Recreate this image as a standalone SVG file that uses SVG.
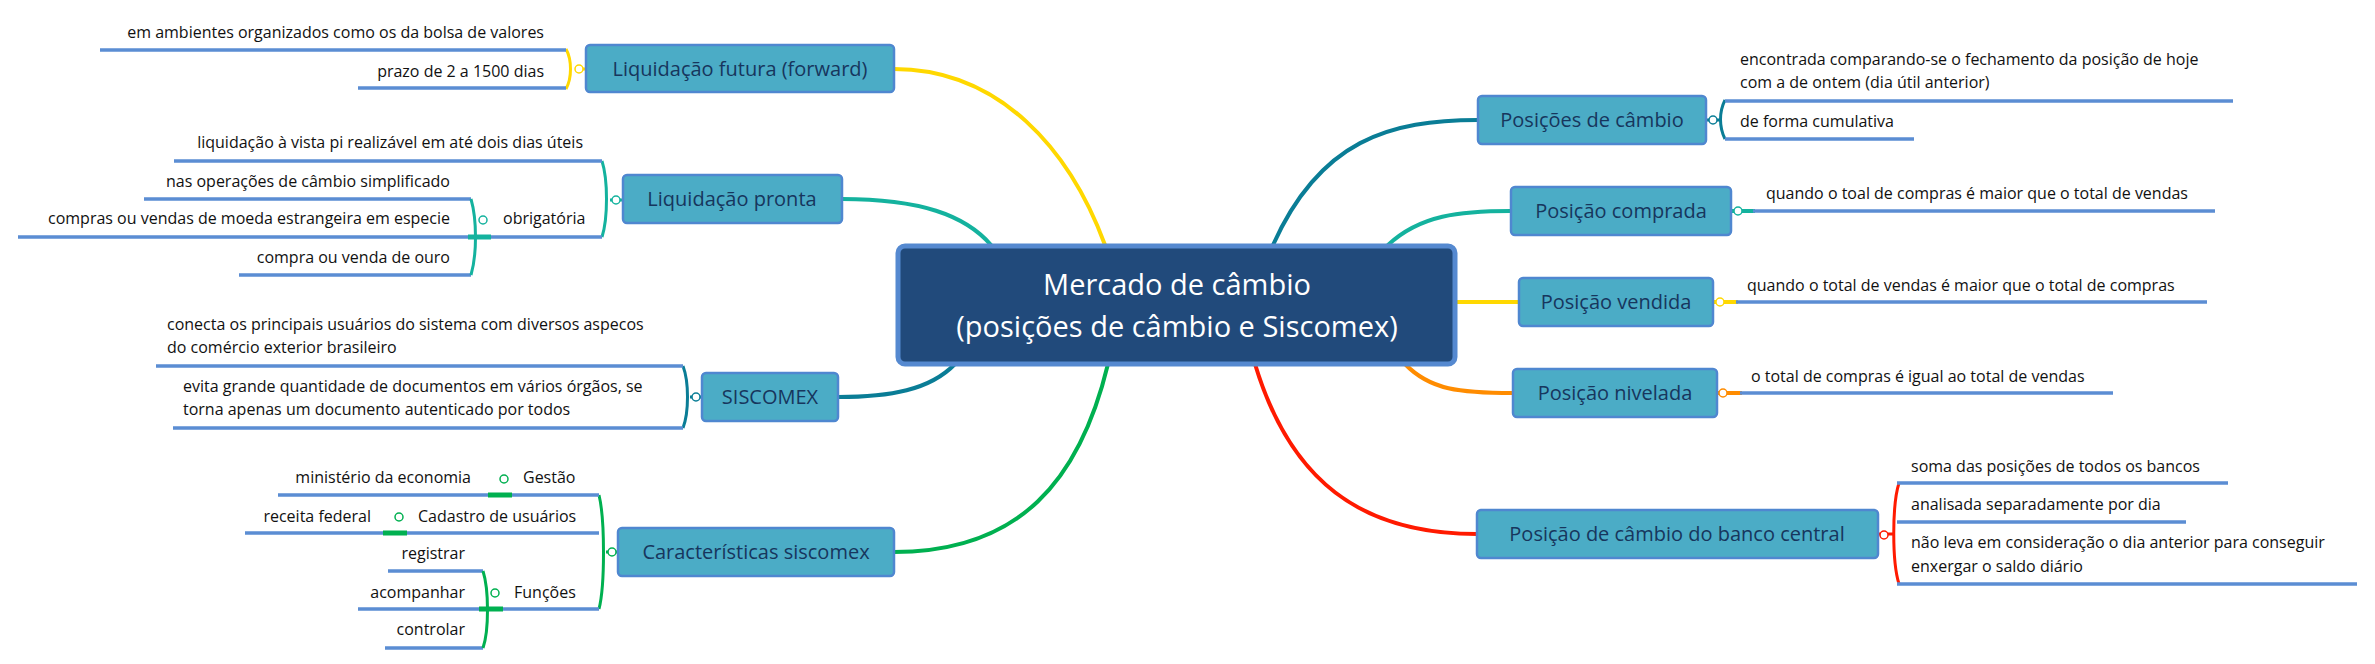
<svg xmlns="http://www.w3.org/2000/svg" width="2375" height="664" viewBox="0 0 2375 664">
<style>
.topic rect{fill:#4BACC6;stroke:#4F87D0;stroke-width:2.5}
.topic text{font-family:"Open Sans","DejaVu Sans",sans-serif;font-size:20px;fill:#17365D;text-anchor:middle}
.leaf{font-family:"Open Sans","DejaVu Sans",sans-serif;font-size:16px;fill:#111}
.end{text-anchor:end}
.ul{stroke:#5B8DD3;stroke-width:3.5;fill:none}
.c{fill:none;stroke-width:4;stroke-linecap:round}
.b{fill:none;stroke-width:3}
.dot{fill:#fff;stroke-width:1.5}
</style>
<rect width="2375" height="664" fill="#fff"/>
<g id="connectors">
<path class="c" stroke="#FFD800" d="M894,69 C1000,69 1070,150 1105,245"/>
<path class="c" stroke="#14B29E" d="M842,199 C920,199 965,215 991,245"/>
<path class="c" stroke="#0A7D96" d="M955,364 C930,390 890,397 838,397"/>
<path class="c" stroke="#00B050" d="M1108,364 C1080,480 1020,552 894,552"/>
<path class="c" stroke="#0A7D96" d="M1273,245 C1320,140 1390,120 1478,120"/>
<path class="c" stroke="#14B29E" d="M1388,245 C1420,215 1460,211 1511,211"/>
<path class="c" stroke="#FFD800" d="M1456,302 L1519,302"/>
<path class="c" stroke="#FF8C00" d="M1405,364 C1430,390 1460,393 1513,393"/>
<path class="c" stroke="#FF1A00" d="M1255,364 C1290,480 1360,534 1477,534"/>
</g>
<g id="central">
<rect x="898" y="246" width="557" height="118" rx="7" fill="#214A7B" stroke="#5589D0" stroke-width="5"/>
<text x="1177" y="295" font-family="'Open Sans','DejaVu Sans',sans-serif" font-size="29" fill="#fff" text-anchor="middle">Mercado de câmbio</text>
<text x="1177" y="337" font-family="'Open Sans','DejaVu Sans',sans-serif" font-size="29" fill="#fff" text-anchor="middle">(posições de câmbio e Siscomex)</text>
</g>
<g id="liquidacao-futura">
<path class="b" stroke="#FFD800" d="M566,49 C572,60 572,78 566,89 M575,69 L586,69"/>
<path class="ul" d="M100,50 H566 M358,88 H566"/>
<text class="leaf end" x="544" y="38">em ambientes organizados como os da bolsa de valores</text>
<text class="leaf end" x="544" y="77">prazo de 2  a 1500 dias</text>
<circle class="dot" stroke="#FFD800" cx="579" cy="69" r="4"/>
<g class="topic"><rect x="586" y="45" width="308" height="47" rx="4"/><text x="740" y="76">Liquidação futura (forward)</text></g>
</g>
<g id="liquidacao-pronta">
<path class="b" stroke="#14B29E" d="M602,161 C608,180 608,218 602,237 M610,200 L623,200"/>
<path class="ul" d="M174,161 H602 M491,237 H602 M144,199 H471 M18,237 H471 M239,275 H471"/>
<path class="b" stroke="#14B29E" d="M471,199 C477,220 477,254 471,275"/>
<path stroke="#14B29E" stroke-width="5" d="M468,237 H491"/>
<text class="leaf end" x="583" y="148">liquidação à vista pi realizável em até dois dias úteis</text>
<text class="leaf" x="503" y="224">obrigatória</text>
<text class="leaf end" x="450" y="187">nas operações de câmbio simplificado</text>
<text class="leaf end" x="450" y="224">compras ou vendas de moeda estrangeira em especie</text>
<text class="leaf end" x="450" y="263">compra ou venda de ouro</text>
<circle class="dot" stroke="#14B29E" cx="483" cy="220" r="4"/>
<circle class="dot" stroke="#14B29E" cx="616" cy="200" r="4"/>
<g class="topic"><rect x="623" y="175" width="219" height="48" rx="4"/><text x="732" y="206">Liquidação pronta</text></g>
</g>
<g id="siscomex">
<path class="b" stroke="#0A7D96" d="M683,366 C689,382 689,412 683,428 M690,397 L702,397"/>
<path class="ul" d="M156,366 H683 M173,428 H683"/>
<text class="leaf" x="167" y="330">conecta os principais usuários do sistema com diversos aspecos</text>
<text class="leaf" x="167" y="353">do comércio exterior brasileiro</text>
<text class="leaf" x="183" y="392">evita grande quantidade de documentos em vários órgãos, se</text>
<text class="leaf" x="183" y="415">torna apenas um documento autenticado por todos</text>
<circle class="dot" stroke="#0A7D96" cx="696" cy="397" r="4"/>
<g class="topic"><rect x="702" y="373" width="136" height="48" rx="4"/><text x="770" y="404">SISCOMEX</text></g>
</g>
<g id="caracteristicas">
<path class="b" stroke="#00B050" d="M599,495 C605,520 605,585 599,609 M606,552 L618,552"/>
<path class="ul" d="M278,495 H599 M245,533 H599 M503,609 H599 M388,571 H483 M358,609 H483 M385,648 H483"/>
<path class="b" stroke="#00B050" d="M483,571 C489,590 489,630 483,648"/>
<path stroke="#00B050" stroke-width="5" d="M488,495 H512 M383,533 H407 M479,609 H503"/>
<text class="leaf" x="523" y="483">Gestão</text>
<text class="leaf end" x="471" y="483">ministério da economia</text>
<text class="leaf" x="418" y="522">Cadastro de usuários</text>
<text class="leaf end" x="371" y="522">receita federal</text>
<text class="leaf" x="514" y="598">Funções</text>
<text class="leaf end" x="465" y="559">registrar</text>
<text class="leaf end" x="465" y="598">acompanhar</text>
<text class="leaf end" x="465" y="635">controlar</text>
<circle class="dot" stroke="#00B050" cx="504" cy="479" r="4"/>
<circle class="dot" stroke="#00B050" cx="399" cy="517" r="4"/>
<circle class="dot" stroke="#00B050" cx="495" cy="593" r="4"/>
<circle class="dot" stroke="#00B050" cx="612" cy="552" r="4"/>
<g class="topic"><rect x="618" y="528" width="276" height="48" rx="4"/><text x="756" y="559">Características siscomex</text></g>
</g>
<g id="posicoes-cambio">
<path class="b" stroke="#0A7D96" d="M1725,100 C1719,112 1719,127 1725,139 M1706,120 L1721,120"/>
<path class="ul" d="M1725,101 H2233 M1725,139 H1914"/>
<text class="leaf" x="1740" y="65">encontrada comparando-se o fechamento da posição de hoje</text>
<text class="leaf" x="1740" y="88">com a de ontem (dia útil anterior)</text>
<text class="leaf" x="1740" y="127">de forma cumulativa</text>
<circle class="dot" stroke="#0A7D96" cx="1713" cy="120" r="4"/>
<g class="topic"><rect x="1478" y="96" width="228" height="48" rx="4"/><text x="1592" y="127">Posições de câmbio</text></g>
</g>
<g id="posicao-comprada">
<path stroke="#14B29E" stroke-width="4" d="M1731,211 H1755"/>
<path class="ul" d="M1753,211 H2215"/>
<text class="leaf" x="1766" y="199">quando o toal de compras é maior que o total de vendas</text>
<circle class="dot" stroke="#14B29E" cx="1738" cy="211" r="4"/>
<g class="topic"><rect x="1511" y="187" width="220" height="48" rx="4"/><text x="1621" y="218">Posição comprada</text></g>
</g>
<g id="posicao-vendida">
<path stroke="#FFD800" stroke-width="4" d="M1713,302 H1738"/>
<path class="ul" d="M1736,302 H2207"/>
<text class="leaf" x="1747" y="291">quando o total de vendas é maior que o total de compras</text>
<circle class="dot" stroke="#FFD800" cx="1720" cy="302" r="4"/>
<g class="topic"><rect x="1519" y="278" width="194" height="48" rx="4"/><text x="1616" y="309">Posição vendida</text></g>
</g>
<g id="posicao-nivelada">
<path stroke="#FF8C00" stroke-width="4" d="M1717,393 H1742"/>
<path class="ul" d="M1740,393 H2113"/>
<text class="leaf" x="1751" y="382">o total de compras é igual ao total de vendas</text>
<circle class="dot" stroke="#FF8C00" cx="1723" cy="393" r="4"/>
<g class="topic"><rect x="1513" y="369" width="204" height="48" rx="4"/><text x="1615" y="400">Posição nivelada</text></g>
</g>
<g id="banco-central">
<path class="b" stroke="#FF1A00" d="M1899,483 C1892,505 1892,562 1899,584 M1878,534 L1895,534"/>
<path class="ul" d="M1897,483 H2228 M1897,522 H2186 M1897,584 H2357"/>
<text class="leaf" x="1911" y="472">soma das posições de todos os bancos</text>
<text class="leaf" x="1911" y="510">analisada separadamente por dia</text>
<text class="leaf" x="1911" y="548">não leva em consideração o dia anterior para conseguir</text>
<text class="leaf" x="1911" y="572">enxergar o saldo diário</text>
<circle class="dot" stroke="#FF1A00" cx="1884" cy="535" r="4"/>
<g class="topic"><rect x="1477" y="510" width="401" height="48" rx="4"/><text x="1677" y="541">Posição de câmbio do banco central</text></g>
</g>
</svg>
